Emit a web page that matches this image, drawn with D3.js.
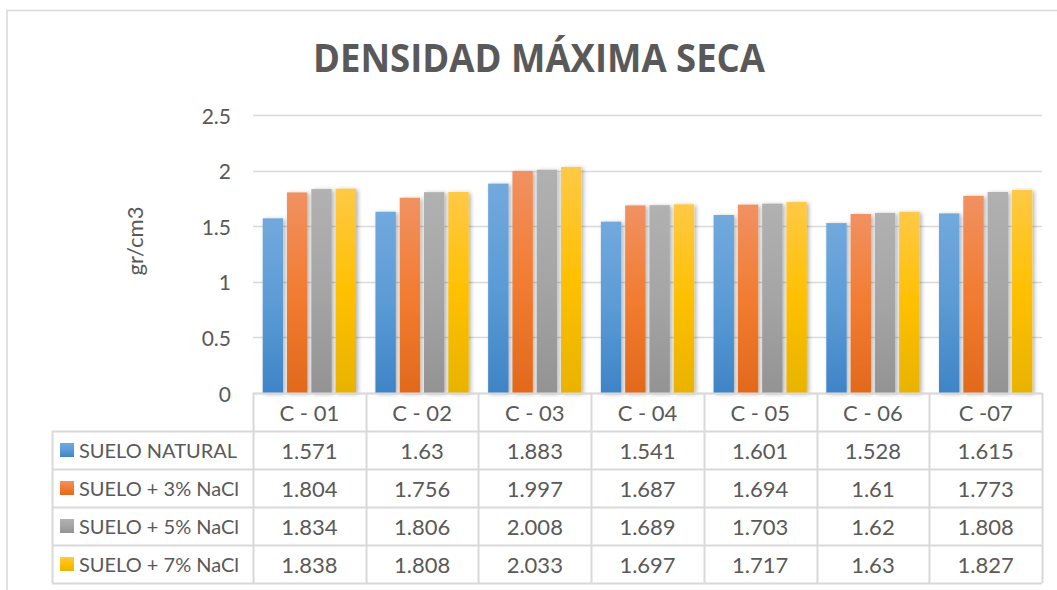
<!DOCTYPE html>
<html>
<head>
<meta charset="utf-8">
<script src="https://cdn.jsdelivr.net/npm/d3@7"></script>
<style>
  body { margin: 0; background: #fff; }
  svg { display: block; }
</style>
</head>
<body>
<svg id="chart" width="1057" height="590"></svg>
<script>
// datos
const categorias = ["C - 01", "C - 02", "C - 03", "C - 04", "C - 05", "C - 06", "C -07"];
const series = ["SUELO NATURAL", "SUELO + 3% NaCl", "SUELO + 5% NaCl", "SUELO + 7% NaCl"];
const sueloNatural = [1.571, 1.63, 1.883, 1.541, 1.601, 1.528, 1.615];
const suelo3 = [1.804, 1.756, 1.997, 1.687, 1.694, 1.61, 1.773];
const suelo5 = [1.834, 1.806, 2.008, 1.689, 1.703, 1.62, 1.808];
const suelo7 = [1.838, 1.808, 2.033, 1.697, 1.717, 1.63, 1.827];
const valores = [sueloNatural, suelo3, suelo5, suelo7];
const yTicks = [0, 0.5, 1, 1.5, 2, 2.5];

// colores (arriba, medio, abajo) para el degradado
const colores = [
  ["#72a9dd", "#5b9bd5", "#3f84c6"],
  ["#f19162", "#f27c31", "#e2691c"],
  ["#b1b1b1", "#a5a5a5", "#939393"],
  ["#ffc946", "#ffc000", "#e8b300"]
];

const textColor = "#595959";
const lineColor = "#d9d9d9";
const fontFam = "Lato, 'Open Sans', sans-serif";

const svg = d3.select("#chart");
const defs = svg.append("defs");

colores.forEach((c, i) => {
  const g = defs.append("linearGradient")
    .attr("id", "grad" + i)
    .attr("x1", 0).attr("y1", 0).attr("x2", 0).attr("y2", 1);
  g.append("stop").attr("offset", "0%").attr("stop-color", c[0]);
  g.append("stop").attr("offset", "50%").attr("stop-color", c[1]);
  g.append("stop").attr("offset", "100%").attr("stop-color", c[2]);
});

defs.append("filter")
  .attr("id", "sombra")
  .attr("x", "-30%").attr("y", "-10%").attr("width", "160%").attr("height", "120%")
  .append("feDropShadow")
  .attr("dx", 2).attr("dy", 1)
  .attr("stdDeviation", 2.2)
  .attr("flood-color", "#000")
  .attr("flood-opacity", 0.3);

// borde del gráfico
svg.append("path")
  .attr("d", "M7,600 V10.5 H1070")
  .attr("fill", "none")
  .attr("stroke", lineColor)
  .attr("stroke-width", 1.5);

const plotLeft = 253, plotRight = 1042, plotTop = 115, plotBottom = 393;
const rowH = 38;
const tableLeft = 52;

const x = d3.scaleBand().domain(categorias).range([plotLeft, plotRight]);
const x1 = d3.scaleBand().domain(d3.range(series.length))
  .range([0, x.bandwidth()]).paddingInner(0.16).paddingOuter(0.4);
const y = d3.scaleLinear().domain([0, 2.5]).range([plotBottom, plotTop]);

// título
svg.append("text")
  .attr("x", 539).attr("y", 72)
  .attr("text-anchor", "middle")
  .attr("textLength", 452)
  .attr("lengthAdjust", "spacingAndGlyphs")
  .style("font-family", "'Open Sans', sans-serif")
  .style("font-weight", "700")
  .style("font-size", "40px")
  .attr("fill", textColor)
  .text("DENSIDAD MÁXIMA SECA");

// líneas de cuadrícula
svg.append("g")
  .selectAll("line")
  .data(yTicks)
  .join("line")
  .attr("x1", plotLeft).attr("x2", plotRight)
  .attr("y1", d => Math.round(y(d)) + 0.5)
  .attr("y2", d => Math.round(y(d)) + 0.5)
  .attr("stroke", lineColor)
  .attr("stroke-width", 1.5);

// etiquetas eje y
svg.append("g")
  .selectAll("text")
  .data(yTicks)
  .join("text")
  .attr("x", 231)
  .attr("y", d => y(d))
  .attr("text-anchor", "end")
  .attr("dominant-baseline", "central")
  .style("font-family", fontFam)
  .style("font-size", "21px")
  .attr("fill", textColor)
  .text(d => d);

svg.append("text")
  .attr("transform", "translate(134,241) rotate(-90)")
  .attr("text-anchor", "middle")
  .attr("dominant-baseline", "central")
  .style("font-family", fontFam)
  .style("font-size", "22px")
  .attr("fill", textColor)
  .text("gr/cm3");

// barras
const grupos = svg.append("g")
  .selectAll("g")
  .data(categorias)
  .join("g")
  .attr("transform", d => `translate(${x(d)},0)`);

grupos.selectAll("rect")
  .data((d, j) => valores.map((s, i) => ({ i, v: s[j] })))
  .join("rect")
  .attr("x", d => x1(d.i))
  .attr("width", x1.bandwidth())
  .attr("y", d => y(d.v))
  .attr("height", d => y(0) - y(d.v))
  .attr("fill", d => `url(#grad${d.i})`)
  .attr("filter", "url(#sombra)");

// tabla de datos
const tabla = svg.append("g");
const tableBottom = plotBottom + rowH * (series.length + 1);

// líneas horizontales
tabla.append("line")
  .attr("x1", plotLeft).attr("x2", plotRight)
  .attr("y1", plotBottom + 0.5).attr("y2", plotBottom + 0.5)
  .attr("stroke", lineColor).attr("stroke-width", 2);
tabla.selectAll("line.h")
  .data(d3.range(series.length + 1))
  .join("line")
  .attr("class", "h")
  .attr("x1", tableLeft).attr("x2", plotRight)
  .attr("y1", d => plotBottom + rowH * (d + 1) + 0.5)
  .attr("y2", d => plotBottom + rowH * (d + 1) + 0.5)
  .attr("stroke", lineColor).attr("stroke-width", 2);

// líneas verticales
tabla.selectAll("line.v")
  .data(categorias.concat([null]))
  .join("line")
  .attr("class", "v")
  .attr("x1", (d, i) => Math.round(plotLeft + x.step() * i) + 0.5)
  .attr("x2", (d, i) => Math.round(plotLeft + x.step() * i) + 0.5)
  .attr("y1", plotBottom).attr("y2", tableBottom)
  .attr("stroke", lineColor).attr("stroke-width", 2);
tabla.append("line")
  .attr("x1", tableLeft + 0.5).attr("x2", tableLeft + 0.5)
  .attr("y1", plotBottom + rowH).attr("y2", tableBottom)
  .attr("stroke", lineColor).attr("stroke-width", 2);

// encabezados
tabla.selectAll("text.cat")
  .data(categorias)
  .join("text")
  .attr("class", "cat")
  .attr("x", d => x(d) + x.bandwidth() / 2)
  .attr("y", plotBottom + rowH / 2)
  .attr("text-anchor", "middle")
  .attr("dominant-baseline", "central")
  .style("font-family", fontFam)
  .style("font-size", "22px")
  .attr("fill", textColor)
  .text(d => d);

// filas
series.forEach((nombre, i) => {
  const cy = plotBottom + rowH * (i + 1) + rowH / 2;
  tabla.append("rect")
    .attr("x", 60).attr("y", cy - 7)
    .attr("width", 14).attr("height", 14)
    .attr("fill", `url(#grad${i})`);
  tabla.append("text")
    .attr("x", 79).attr("y", cy)
    .attr("dominant-baseline", "central")
    .style("font-family", fontFam)
    .style("font-size", "20px")
    .attr("fill", textColor)
    .text(nombre);
  tabla.selectAll("text.val" + i)
    .data(valores[i])
    .join("text")
    .attr("x", (d, j) => x(categorias[j]) + x.bandwidth() / 2)
    .attr("y", cy)
    .attr("text-anchor", "middle")
    .attr("dominant-baseline", "central")
    .style("font-family", fontFam)
    .style("font-size", "22px")
    .attr("fill", textColor)
    .text(d => d);
});
</script>
</body>
</html>
